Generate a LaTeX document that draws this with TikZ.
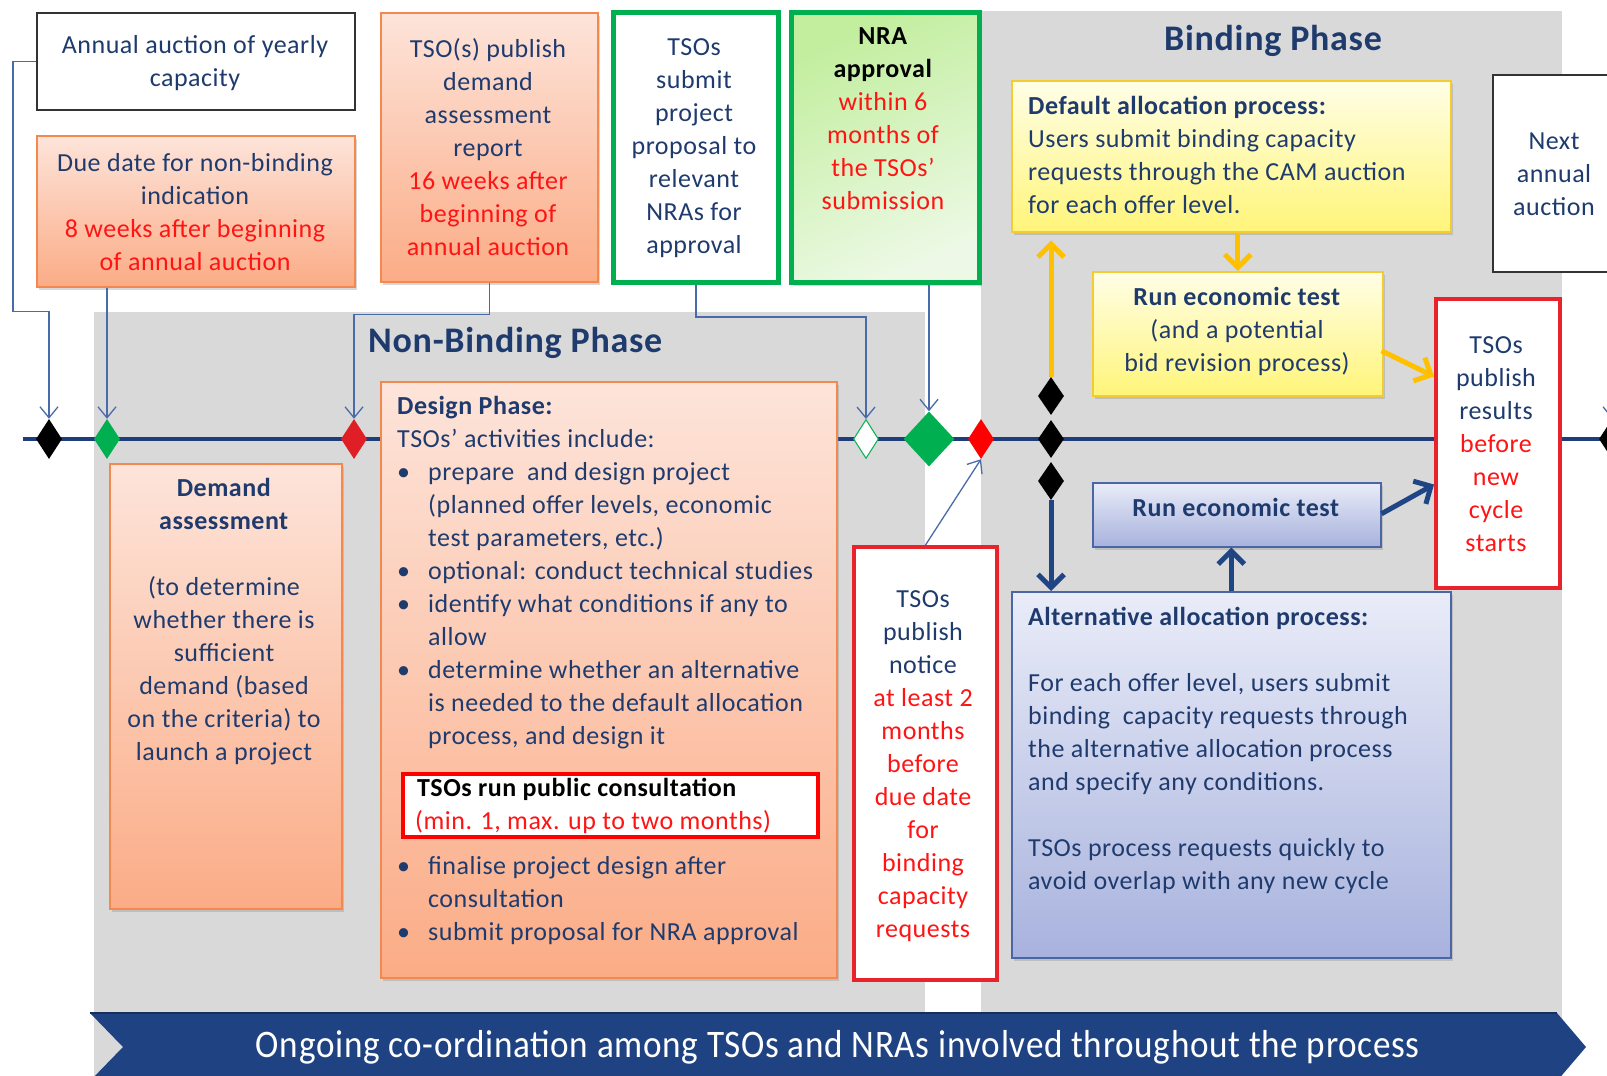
\documentclass[tikz,border=0pt]{standalone}
\usepackage{fontspec}
\setmainfont{Carlito}[LetterSpace=2.0]
\usepackage{graphicx}
\usetikzlibrary{shapes.geometric,arrows.meta,shadows,calc}
\definecolor{navy}{HTML}{1F3B6E}
\definecolor{rd}{HTML}{FF1414}
\definecolor{gr}{HTML}{00B050}
\definecolor{gry}{HTML}{D9D9D9}
\definecolor{tlc}{HTML}{1F3D7A}
\definecolor{thinc}{HTML}{4A6BAA}
\definecolor{or1}{HTML}{FDE4DA}
\definecolor{or2}{HTML}{FBAC86}
\definecolor{orb}{HTML}{F3894F}
\definecolor{ye1}{HTML}{FFFEE6}
\definecolor{ye2}{HTML}{FFF57A}
\definecolor{yeb}{HTML}{F5CC30}
\definecolor{bl1}{HTML}{E9ECF8}
\definecolor{bl2}{HTML}{A8B2DD}
\definecolor{blb}{HTML}{4A66A5}
\definecolor{yarrc}{HTML}{FFC000}
\definecolor{barrc}{HTML}{1F4585}
\definecolor{bannerc}{HTML}{1F4382}
\definecolor{gn1}{HTML}{C2EE9E}
\definecolor{gn2}{HTML}{EDF9E6}
\definecolor{redb}{HTML}{E8232B}
\definecolor{dred}{HTML}{E01E26}
\newcommand{\mystrut}{\rule{0pt}{21pt}}
\newcommand{\redtxt}[1]{\textcolor{rd}{#1}}
\newcommand{\bul}{\makebox[31pt][l]{•}}
\newcommand{\ind}{\hspace*{31pt}}
\begin{document}
\begin{tikzpicture}[x=1pt,y=-1pt,
  tx/.style={inner sep=0pt, font=\fontsize{26}{33}\selectfont, text=navy},
  ttl/.style={inner sep=0pt, font=\fontsize{36}{40}\selectfont\bfseries, text=navy},
  box/.style={anchor=north west, inner sep=0pt},
  shad/.style={drop shadow={shadow xshift=2pt,shadow yshift=-3pt,opacity=.3}},
  orangebox/.style={box, shad, top color=or1, bottom color=or2, draw=orb, line width=1.5pt},
  yellowbox/.style={box, shad, top color=ye1, bottom color=ye2, draw=yeb, line width=1.5pt},
  bluebox/.style={box, shad, top color=bl1, bottom color=bl2, draw=blb, line width=1.5pt},
  whitebox/.style={box, fill=white, draw=black!80, line width=1.5pt},
  greenbox/.style={box, fill=white, draw=gr, line width=5pt},
  redbox/.style={box, fill=white, draw=redb, line width=4pt},
  dia/.style={diamond, inner sep=0pt, minimum width=26pt, minimum height=40pt},
  thinarr/.style={draw=thinc, line width=1.3pt, -{Straight Barb[length=11pt,width=18pt]}},
  yarr/.style={draw=yarrc, line width=5pt, -{Straight Barb[length=13pt,width=26pt]}},
  barr/.style={draw=barrc, line width=5pt, -{Straight Barb[length=13pt,width=26pt]}}
]
\useasboundingbox (0,0) rectangle (1607,1076);
\fill[white] (0,0) rectangle (1607,1076);
% phase regions
\fill[gry] (94,312) rectangle (925,1076);
\fill[gry] (981,11) rectangle (1562,1076);
% timeline
\coordinate (tl0) at (23,439);
\coordinate (tl1) at (1607,439);
\draw[tlc, line width=4pt] (tl0) -- (tl1);

% titles
\node[ttl] (bt) at (1273,41) {Binding Phase};
\node[ttl, anchor=west] (nbt) at (368,343) {Non-Binding Phase};

% top boxes
\node[whitebox, minimum width=318pt, minimum height=97pt] (annual) at (36,12) {};
\node[tx, anchor=north, align=center] (t-annual) at (195,32) {\mystrut Annual auction of yearly\\capacity};
\node[orangebox, minimum width=318pt, minimum height=151pt] (due) at (36,135) {};
\node[tx, anchor=north, align=center] (t-due) at (195,150) {\mystrut Due date for non-binding\\indication\\\redtxt{8 weeks after beginning}\\\redtxt{of annual auction}};
\node[orangebox, minimum width=217pt, minimum height=269pt] (report) at (380,12) {};
\node[tx, anchor=north, align=center] (t-report) at (488,36) {\mystrut TSO(s) publish\\demand\\assessment\\report\\\redtxt{16 weeks after}\\\redtxt{beginning of}\\\redtxt{annual auction}};
\node[greenbox, minimum width=165pt, minimum height=270pt] (submit) at (611,10) {};
\node[tx, anchor=north, align=center] (t-submit) at (694,34) {\mystrut TSOs\\submit\\project\\proposal to\\relevant\\NRAs for\\approval};
\node[box, shad, top color=gn1, bottom color=gn2, shading angle=25, draw=gr, line width=5pt, minimum width=188pt, minimum height=270pt] (nra) at (789,10) {};
\node[tx, anchor=north, align=center] (t-nra) at (883,23) {\mystrut\textcolor{black}{\textbf{NRA}}\\\textcolor{black}{\textbf{approval}}\\\redtxt{within 6}\\\redtxt{months of}\\\redtxt{the TSOs’}\\\redtxt{submission}};

% binding phase boxes
\node[yellowbox, minimum width=439pt, minimum height=151pt] (default) at (1011,80) {};
\node[tx, anchor=north west, align=left] (t-default) at (1028,93) {\mystrut\textbf{Default allocation process:}\\Users submit binding capacity\\requests through the CAM auction\\for each offer level.};
\node[yellowbox, minimum width=290pt, minimum height=124pt] (runy) at (1092,271) {};
\node[tx, anchor=north, align=center] (t-runy) at (1237,284) {\mystrut\textbf{Run economic test}\\(and a potential\\bid revision process)};
\node[bluebox, minimum width=288pt, minimum height=64pt] (runb) at (1092,482) {};
\node[tx, anchor=north, align=center] (t-runb) at (1236,495) {\mystrut\textbf{Run economic test}};
\node[bluebox, minimum width=439pt, minimum height=366pt] (alt) at (1011,591) {};
\node[tx, anchor=north west, align=left] (t-alt) at (1028,604) {\mystrut\textbf{Alternative allocation process:}\\[33pt]For each offer level, users submit\\binding \ capacity requests through\\the alternative allocation process\\and specify any conditions.\\[33pt]TSOs process requests quickly to\\avoid overlap with any new cycle};
\node[redbox, minimum width=124pt, minimum height=289pt] (results) at (1434,297) {};
\node[tx, anchor=north, align=center] (t-results) at (1496,332) {\mystrut TSOs\\publish\\results\\\redtxt{before}\\\redtxt{new}\\\redtxt{cycle}\\\redtxt{starts}};
\node[whitebox, minimum width=130pt, minimum height=197pt] (next) at (1492,74) {};
\node[tx, anchor=north, align=center] (t-next) at (1554,128) {\mystrut Next\\annual\\auction};

% non-binding boxes
\node[redbox, minimum width=143pt, minimum height=433pt] (notice) at (852,545) {};
\node[tx, anchor=north, align=center] (t-notice) at (923,586) {\mystrut TSOs\\publish\\notice\\\redtxt{at least 2}\\\redtxt{months}\\\redtxt{before}\\\redtxt{due date}\\\redtxt{for}\\\redtxt{binding}\\\redtxt{capacity}\\\redtxt{requests}};
\node[orangebox, minimum width=232pt, minimum height=445pt] (demand) at (109,463) {};
\node[tx, anchor=north, align=center] (t-demand) at (224,475) {\mystrut\textbf{Demand}\\\textbf{assessment}\\[33pt](to determine\\whether there is\\sufficient\\demand (based\\on the criteria) to\\launch a project};
\node[orangebox, minimum width=456pt, minimum height=596pt] (design) at (380,381) {};
\node[tx, anchor=north west, align=left] (t-design) at (397,393) {\mystrut\textbf{Design Phase:}\\TSOs’ activities include:\\\bul prepare \ and design project\\\ind (planned offer levels, economic\\\ind test parameters, etc.)\\\bul optional: conduct technical studies\\\bul identify what conditions if any to\\\ind allow\\\bul determine whether an alternative\\\ind is needed to the default allocation\\\ind process, and design it};
\node[box, fill=white, draw=red, line width=3.5pt, minimum width=415pt, minimum height=63pt] (consult) at (401,772) {};
\node[tx, anchor=north west, align=left] (t-consult) at (415,775) {\mystrut\hspace*{2pt}\textcolor{black}{\textbf{TSOs run public consultation}}\\\redtxt{(min. 1, max. up to two months)}};
\node[tx, anchor=north west, align=left] (t-design2) at (397,853) {\mystrut\bul finalise project design after\\\ind consultation\\\bul submit proposal for NRA approval};

% diamonds
\node[dia, fill=black] (d0) at (49,439) {};
\node[dia, fill=gr] (d1) at (107,439) {};
\node[dia, fill=dred] (d2) at (354,439) {};
\node[dia, fill=white, draw=gr, line width=1pt, minimum width=25pt, minimum height=39pt] (d3) at (866,439) {};
\node[dia, fill=gr, minimum width=51pt, minimum height=55pt] (d4) at (929,439) {};
\node[dia, fill=red] (d5) at (981,439) {};
\node[dia, fill=black, minimum height=38pt] (d6) at (1051,396) {};
\node[dia, fill=black, minimum height=38pt] (d7) at (1051,439) {};
\node[dia, fill=black, minimum height=38pt] (d8) at (1051,481) {};
\node[dia, fill=black] (d9) at (1612,439) {};

% thin connectors
\draw[thinarr] (annual.west) -- ++(-23,0) |- ($(d0.north)+(0,-107)$) -- (d0.north);
\draw[thinarr] (d1 |- due.south) -- (d1.north);
\draw[thinarr] (report.south) -- ++(0,32) -| (d2.north);
\draw[thinarr] (submit.south) -- ++(0,32) -| (d3.north);
\draw[thinarr] (d4 |- nra.south) -- (d4.north);
\draw[thinarr] (notice.north) -- (d5.south);
\draw[thinarr] (d9 |- next.south) -- (d9.north);

% thick connectors
\draw[yarr] (d6.north) -- ($(d6 |- default.south)+(0,8)$);
\draw[yarr] (runy.north |- default.south) -- (runy.north);
\draw[yarr] ($(runy.east)+(-2,17)$) -- ($(results.west)+(0,-67)$);
\draw[barr] (d8.south) -- (d8 |- alt.north);
\draw[barr] (alt.north) -- (alt.north |- runb.south);
\draw[barr] ($(runb.east)+(0,-1)$) -- ($(results.west)+(0,41)$);

% banner
\fill[bannerc] (90,1013) -- (1557,1013) -- (1586,1047) -- (1557,1081) -- (90,1081) -- (123,1047) -- cycle;
\draw[bannerc!70!black, line width=1.5pt] (90,1013) -- (1557,1013);
\node[inner sep=0pt, text=white, font=\fontsize{39}{44}\selectfont] (bn) at (838,1047) {\resizebox{1164pt}{\height}{Ongoing co-ordination among TSOs and NRAs involved throughout the process}};
\end{tikzpicture}
\end{document}
